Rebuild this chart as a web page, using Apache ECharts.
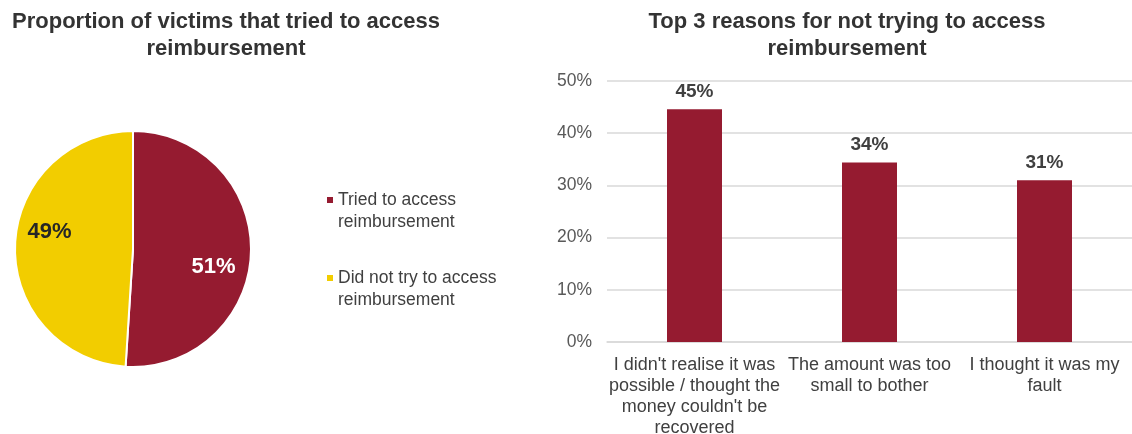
<!DOCTYPE html>
<html>
<head>
<meta charset="utf-8">
<script src="https://cdn.jsdelivr.net/npm/echarts@6/dist/echarts.min.js"></script>
<style>
  html, body { margin: 0; padding: 0; background: #fff; }
  #chart { width: 1132px; height: 434px; }
</style>
</head>
<body>
<div id="chart"></div>
<script>
// ---- data ----
const pieTitle = 'Proportion of victims that tried to access\nreimbursement';
const pieCategories = ['Tried to access\nreimbursement', 'Did not try to access\nreimbursement'];
const pieValues = [51, 49];

const barTitle = 'Top 3 reasons for not trying to access\nreimbursement';
const barCategories = [
  "I didn't realise it was\npossible / thought the\nmoney couldn't be\nrecovered",
  'The amount was too\nsmall to bother',
  'I thought it was my\nfault'
];
const barValues = [44.6, 34.4, 31.0];
const yTickMin = 0, yTickMax = 50, yTickStep = 10;

// ---- styles ----
const FONT = "'Liberation Sans', Arial, sans-serif";
const RED = '#951B30';
const YELLOW = '#F2CD00';
const TITLE_COLOR = '#333333';
const TEXT_COLOR = '#404040';

const chart = echarts.init(document.getElementById('chart'), null, { renderer: 'canvas' });

const pieLabelStyles = [
  { color: '#ffffff', offset: [18.5, 16] },
  { color: '#262626', offset: [-21.5, -15.5] }
];
const pieColors = [RED, YELLOW];

chart.setOption({
  animation: false,
  backgroundColor: '#ffffff',
  title: [
    {
      text: pieTitle, left: 226, top: 8, padding: 0, textAlign: 'center',
      textStyle: { fontFamily: FONT, fontSize: 22, fontWeight: 'bold', color: TITLE_COLOR, lineHeight: 27 }
    },
    {
      text: barTitle, left: 847, top: 8, padding: 0, textAlign: 'center',
      textStyle: { fontFamily: FONT, fontSize: 22, fontWeight: 'bold', color: TITLE_COLOR, lineHeight: 27 }
    }
  ],
  legend: {
    orient: 'vertical',
    left: 327, top: 189, padding: 0,
    itemWidth: 6, itemHeight: 28, itemGap: 34,
    icon: 'path://M0,0H1V1H0Z M0,4.666H0.001V4.667H0Z',
    itemStyle: { borderWidth: 0 },
    textStyle: { fontFamily: FONT, fontSize: 17.5, lineHeight: 22, color: TEXT_COLOR },
    data: pieCategories
  },
  grid: { left: 607, right: 0, top: 81, bottom: 92, containLabel: false, outerBoundsMode: 'none' },
  xAxis: {
    type: 'category',
    data: barCategories,
    axisLine: { lineStyle: { color: '#D9D9D9', width: 1.5 } },
    axisTick: { show: false },
    axisLabel: { fontFamily: FONT, fontSize: 18, lineHeight: 20.8, color: TEXT_COLOR, margin: 13, interval: 0 }
  },
  yAxis: {
    type: 'value',
    min: yTickMin, max: yTickMax, interval: yTickStep,
    axisLine: { show: false },
    axisTick: { show: false },
    splitLine: { lineStyle: { color: '#D9D9D9', width: 1.5 } },
    axisLabel: { fontFamily: FONT, fontSize: 17.5, color: '#595959', margin: 15, formatter: '{value}%' }
  },
  series: [
    {
      type: 'pie',
      center: [133, 249],
      radius: [0, 118],
      startAngle: 90,
      clockwise: true,
      silent: true,
      itemStyle: { borderColor: '#ffffff', borderWidth: 2 },
      labelLine: { show: false },
      emphasis: { disabled: true },
      label: {
        show: true, position: 'inside', rotate: 0,
        fontFamily: FONT, fontSize: 22, fontWeight: 'bold',
        formatter: p => p.value + '%'
      },
      data: pieCategories.map((name, i) => ({
        name: name,
        value: pieValues[i],
        itemStyle: { color: pieColors[i] },
        label: { color: pieLabelStyles[i].color, offset: pieLabelStyles[i].offset }
      }))
    },
    {
      type: 'bar',
      data: barValues,
      barWidth: 55,
      silent: true,
      itemStyle: { color: RED },
      label: {
        show: true, position: 'top', distance: 8,
        fontFamily: FONT, fontSize: 19, fontWeight: 'bold', color: TEXT_COLOR,
        formatter: p => Math.round(p.value) + '%'
      }
    }
  ]
});
</script>
</body>
</html>
